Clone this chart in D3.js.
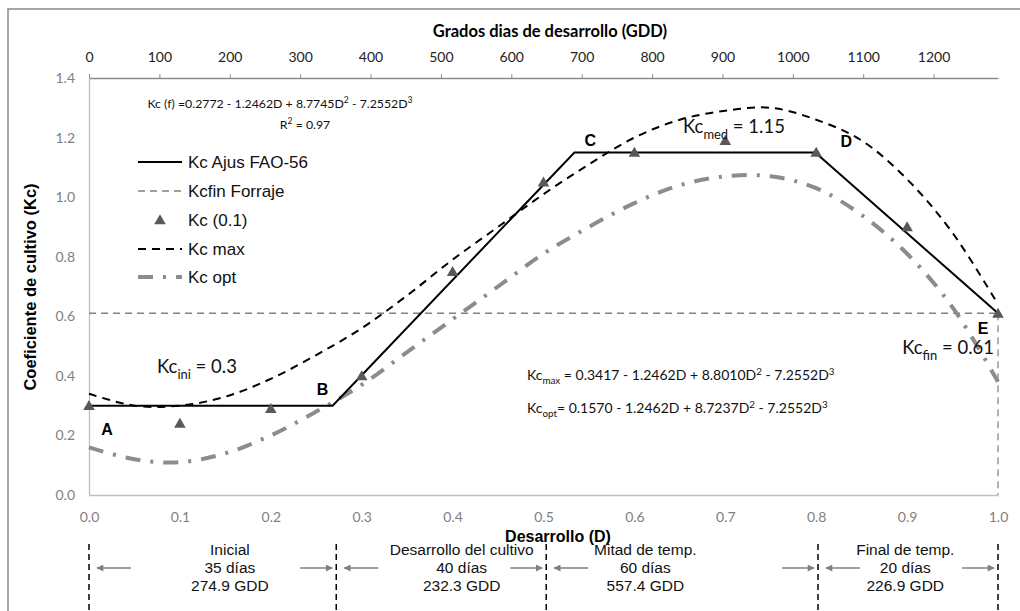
<!DOCTYPE html>
<html>
<head>
<meta charset="utf-8">
<script src="https://cdn.jsdelivr.net/npm/d3@7"></script>
<style>
  body { margin: 0; background: #fff; }
  svg { display: block; }
</style>
</head>
<body>
<svg id="chart" width="1020" height="611"></svg>
<script>
var width = 1020, height = 611;

// ---- data ----
var devD = [0, 0.05, 0.1, 0.15, 0.2, 0.25, 0.3, 0.35, 0.4, 0.45, 0.5,
            0.55, 0.6, 0.65, 0.7, 0.75, 0.8, 0.85, 0.9, 0.95, 1.0];
var kcMax = [0.34, 0.30, 0.30, 0.33, 0.39, 0.47, 0.56, 0.67, 0.79, 0.90, 1.01,
             1.11, 1.20, 1.26, 1.29, 1.30, 1.26, 1.19, 1.06, 0.88, 0.64];
var kcOpt = [0.16, 0.12, 0.11, 0.14, 0.20, 0.28, 0.37, 0.48, 0.59, 0.70, 0.81,
             0.90, 0.98, 1.04, 1.07, 1.07, 1.03, 0.94, 0.81, 0.63, 0.38];

var faoD = [0, 0.268, 0.534, 0.799, 1.0];
var faoKc = [0.30, 0.30, 1.15, 1.15, 0.61];
var faoLabels = ["A", "B", "C", "D", "E"];

var obsD = [0, 0.1, 0.2, 0.3, 0.4, 0.5, 0.6, 0.7, 0.8, 0.9, 1.0];
var obsKc = [0.30, 0.24, 0.29, 0.40, 0.75, 1.05, 1.15, 1.19, 1.15, 0.90, 0.61];

var kcFin = 0.61;

var gddTicks = [0, 100, 200, 300, 400, 500, 600, 700, 800, 900, 1000, 1100, 1200];
var gddTotal = 1291.5;
var dTicks = [0, 0.1, 0.2, 0.3, 0.4, 0.5, 0.6, 0.7, 0.8, 0.9, 1.0];
var kcTicks = [0, 0.2, 0.4, 0.6, 0.8, 1.0, 1.2, 1.4];

var phaseNames = ["Inicial", "Desarrollo del cultivo", "Mitad de temp.", "Final de temp."];
var phaseDays = ["35 días", "40 días", "60 días", "20 días"];
var phaseGDD = ["274.9 GDD", "232.3 GDD", "557.4 GDD", "226.9 GDD"];
var phaseBounds = [0, 0.272, 0.503, 0.802, 1.0];

var legendNames = ["Kc Ajus FAO-56", "Kcfin Forraje", "Kc (0.1)", "Kc max", "Kc opt"];

// ---- scales ----
var x = d3.scaleLinear().domain([0, 1]).range([89, 998]);
var xg = d3.scaleLinear().domain([0, gddTotal]).range([89, 998]);
var y = d3.scaleLinear().domain([0, 1.4]).range([495, 78]);

var svg = d3.select("#chart");

var ARIAL = "'Liberation Sans', Arial, sans-serif";
var CALI = "Lato, 'Open Sans', sans-serif";

// outer frame
svg.append("path")
  .attr("d", "M8,611V9H1020")
  .attr("fill", "none")
  .attr("stroke", "#8a8a8a")
  .attr("stroke-width", 1.5);

// ---- axes ----
var gx = svg.append("g")
  .attr("transform", "translate(0,495)")
  .call(d3.axisBottom(x).tickValues(dTicks).tickSize(0).tickPadding(17).tickFormat(d3.format(".1f")));
gx.select(".domain").attr("stroke", "#bfbfbf").attr("stroke-width", 1.3);
gx.selectAll("text").attr("fill", "#7f7f7f").style("font-family", CALI).style("font-size", "14px");

var gy = svg.append("g")
  .attr("transform", "translate(89,0)")
  .call(d3.axisLeft(y).tickValues(kcTicks).tickSize(0).tickPadding(14).tickFormat(d3.format(".1f")));
gy.select(".domain").attr("stroke", "#bfbfbf").attr("stroke-width", 1.3);
gy.selectAll("text").attr("fill", "#7f7f7f").style("font-family", CALI).style("font-size", "14px");

var gt = svg.append("g")
  .attr("transform", "translate(0,78)")
  .call(d3.axisTop(xg).tickValues(gddTicks).tickSizeInner(4).tickSizeOuter(0).tickPadding(12)
    .tickFormat(d3.format("d")));
gt.select(".domain").attr("stroke", "#8c8c8c").attr("stroke-width", 1.3);
gt.selectAll(".tick line").attr("stroke", "#8c8c8c");
gt.selectAll("text").attr("fill", "#222").style("font-family", CALI).style("font-size", "14px");

// axis titles
svg.append("text")
  .attr("x", 550).attr("y", 37)
  .attr("text-anchor", "middle")
  .style("font-family", CALI).style("font-size", "16.5px").style("font-weight", "bold")
  .text("Grados dias de desarrollo (GDD)");

svg.append("text")
  .attr("x", 558).attr("y", 542)
  .attr("text-anchor", "middle")
  .style("font-family", ARIAL).style("font-size", "16px").style("font-weight", "bold")
  .text("Desarrollo (D)");

svg.append("text")
  .attr("transform", "translate(36,287) rotate(-90)")
  .attr("text-anchor", "middle")
  .style("font-family", ARIAL).style("font-size", "16.5px").style("font-weight", "bold")
  .text("Coeficiente de cultivo (Kc)");

// ---- marks ----
var plot = svg.append("g");

// Kcfin forraje
plot.append("line")
  .attr("x1", x(0)).attr("x2", x(1))
  .attr("y1", y(kcFin)).attr("y2", y(kcFin))
  .attr("stroke", "#808080").attr("stroke-width", 1.6)
  .attr("stroke-dasharray", "7,5");
plot.append("line")
  .attr("x1", x(1)).attr("x2", x(1))
  .attr("y1", y(kcFin)).attr("y2", y(0))
  .attr("stroke", "#808080").attr("stroke-width", 1.2)
  .attr("stroke-dasharray", "7,5");

var curve = d3.line()
  .x(function (d, i) { return x(devD[i]); })
  .y(function (d) { return y(d); })
  .curve(d3.curveCatmullRom);

plot.append("path")
  .attr("d", curve(kcOpt))
  .attr("fill", "none")
  .attr("stroke", "#8c8c8c").attr("stroke-width", 4)
  .attr("stroke-dasharray", "15,10,3,10");

plot.append("path")
  .attr("d", curve(kcMax))
  .attr("fill", "none")
  .attr("stroke", "#000").attr("stroke-width", 2)
  .attr("stroke-dasharray", "8,6");

var fao = d3.line()
  .x(function (d, i) { return x(faoD[i]); })
  .y(function (d) { return y(d); });

plot.append("path")
  .attr("d", fao(faoKc))
  .attr("fill", "none")
  .attr("stroke", "#000").attr("stroke-width", 2);

var tri = d3.symbol().type(d3.symbolTriangle).size(58);
plot.selectAll(".obs")
  .data(obsKc)
  .join("path")
  .attr("class", "obs")
  .attr("d", tri)
  .attr("transform", function (d, i) { return "translate(" + x(obsD[i]) + "," + (y(d) + 1) + ")"; })
  .attr("fill", "#595959");

// point letters
var letterOff = [[18, 24], [-10, -16], [16, -12], [31, -11], [-15, 15]];
plot.selectAll(".lbl")
  .data(faoLabels)
  .join("text")
  .attr("class", "lbl")
  .attr("x", function (d, i) { return x(faoD[i]) + letterOff[i][0]; })
  .attr("y", function (d, i) { return y(faoKc[i]) + letterOff[i][1]; })
  .attr("text-anchor", "middle")
  .attr("dy", "0.35em")
  .style("font-family", ARIAL).style("font-size", "16px").style("font-weight", "bold")
  .text(function (d) { return d; });

// ---- annotation text ----
function subText(xp, yp, parts, size, anchor) {
  var t = svg.append("text")
    .attr("x", xp).attr("y", yp)
    .attr("text-anchor", anchor || "start")
    .style("font-family", CALI).style("font-size", size + "px")
    .attr("fill", "#111");
  parts.forEach(function (p) {
    var s = t.append("tspan").text(p[0]);
    if (p[1] === "sub") s.attr("dy", size * 0.3).style("font-size", (size * 0.7) + "px");
    else if (p[1] === "sup") s.attr("dy", -size * 0.38).style("font-size", (size * 0.7) + "px");
    else if (p[1] === "back") s.attr("dy", p[2]);
  });
  return t;
}

subText(280, 108, [["Kc (f) =0.2772 - 1.2462D + 8.7745D"], ["2", "sup"], ["  - 7.2552D", "back", 4.7], ["3", "sup"]], 12.3, "middle");
subText(305, 129, [["R"], ["2", "sup"], [" = 0.97", "back", 4.7]], 12.3, "middle");

subText(527, 380, [["Kc"], ["max", "sub"], [" = 0.3417 - 1.2462D  + 8.8010D", "back", -4.2], ["2", "sup"], [" - 7.2552D", "back", 5.3], ["3", "sup"]], 14);
subText(527, 413, [["Kc"], ["opt", "sub"], ["= 0.1570 - 1.2462D  + 8.7237D", "back", -4.2], ["2", "sup"], [" - 7.2552D", "back", 5.3], ["3", "sup"]], 14);

subText(157, 373, [["Kc"], ["ini", "sub"], [" = 0.3", "back", -5.5]], 18.5);
subText(683, 133, [["Kc"], ["med", "sub"], [" = 1.15", "back", -5.5]], 18.5);
subText(994, 354, [["Kc"], ["fin", "sub"], [" = 0.61", "back", -5.5]], 18.5, "end");

// ---- legend ----
var legY = [162, 191, 220, 249, 277];
var leg = svg.append("g");
leg.append("line").attr("x1", 138).attr("x2", 182).attr("y1", legY[0]).attr("y2", legY[0])
  .attr("stroke", "#000").attr("stroke-width", 2);
leg.append("line").attr("x1", 138).attr("x2", 182).attr("y1", legY[1]).attr("y2", legY[1])
  .attr("stroke", "#808080").attr("stroke-width", 1.6).attr("stroke-dasharray", "7,5");
leg.append("path").attr("d", tri).attr("transform", "translate(160," + (legY[2] + 1) + ")")
  .attr("fill", "#595959");
leg.append("line").attr("x1", 138).attr("x2", 182).attr("y1", legY[3]).attr("y2", legY[3])
  .attr("stroke", "#000").attr("stroke-width", 2).attr("stroke-dasharray", "8,6");
leg.append("line").attr("x1", 138).attr("x2", 182).attr("y1", legY[4]).attr("y2", legY[4])
  .attr("stroke", "#8c8c8c").attr("stroke-width", 4).attr("stroke-dasharray", "15,10,3,10");
leg.selectAll(".lt")
  .data(legendNames)
  .join("text")
  .attr("class", "lt")
  .attr("x", 188)
  .attr("y", function (d, i) { return legY[i]; })
  .attr("dy", "0.35em")
  .style("font-family", ARIAL).style("font-size", "17px")
  .attr("fill", "#111")
  .text(function (d) { return d; });

// ---- phases below the axis ----
var defs = svg.append("defs");
defs.append("marker")
  .attr("id", "ah").attr("viewBox", "0 0 10 10")
  .attr("refX", 9).attr("refY", 5)
  .attr("markerWidth", 9).attr("markerHeight", 7)
  .attr("markerUnits", "userSpaceOnUse")
  .attr("orient", "auto")
  .append("path").attr("d", "M0,0L10,5L0,10Z").attr("fill", "#808080");

var ph = svg.append("g");
ph.selectAll(".sep")
  .data(phaseBounds)
  .join("line")
  .attr("class", "sep")
  .attr("x1", function (d) { return x(d); }).attr("x2", function (d) { return x(d); })
  .attr("y1", 544)
  .attr("y2", 611)
  .attr("stroke", "#000").attr("stroke-width", 1.5)
  .attr("stroke-dasharray", "6,4");

var arrowY = 568;
phaseBounds.forEach(function (b, i) {
  var bx = x(b);
  if (i > 0) {
    ph.append("line").attr("x1", bx - 36).attr("x2", bx - 4)
      .attr("y1", arrowY).attr("y2", arrowY)
      .attr("stroke", "#808080").attr("stroke-width", 1.5)
      .attr("marker-end", "url(#ah)");
  }
  if (i < phaseBounds.length - 1) {
    ph.append("line").attr("x1", bx + 42).attr("x2", bx + 8)
      .attr("y1", arrowY).attr("y2", arrowY)
      .attr("stroke", "#808080").attr("stroke-width", 1.5)
      .attr("marker-end", "url(#ah)");
  }
});

var phaseX = [0.155, 0.41, 0.612, 0.898];
var rows = [phaseNames, phaseDays, phaseGDD];
rows.forEach(function (arr, r) {
  ph.selectAll(".pt" + r)
    .data(arr)
    .join("text")
    .attr("x", function (d, i) { return x(phaseX[i]); })
    .attr("y", 555 + r * 18)
    .attr("text-anchor", "middle")
    .style("font-family", ARIAL).style("font-size", "15.5px")
    .attr("fill", "#111")
    .text(function (d) { return d; });
});
</script>
</body>
</html>
